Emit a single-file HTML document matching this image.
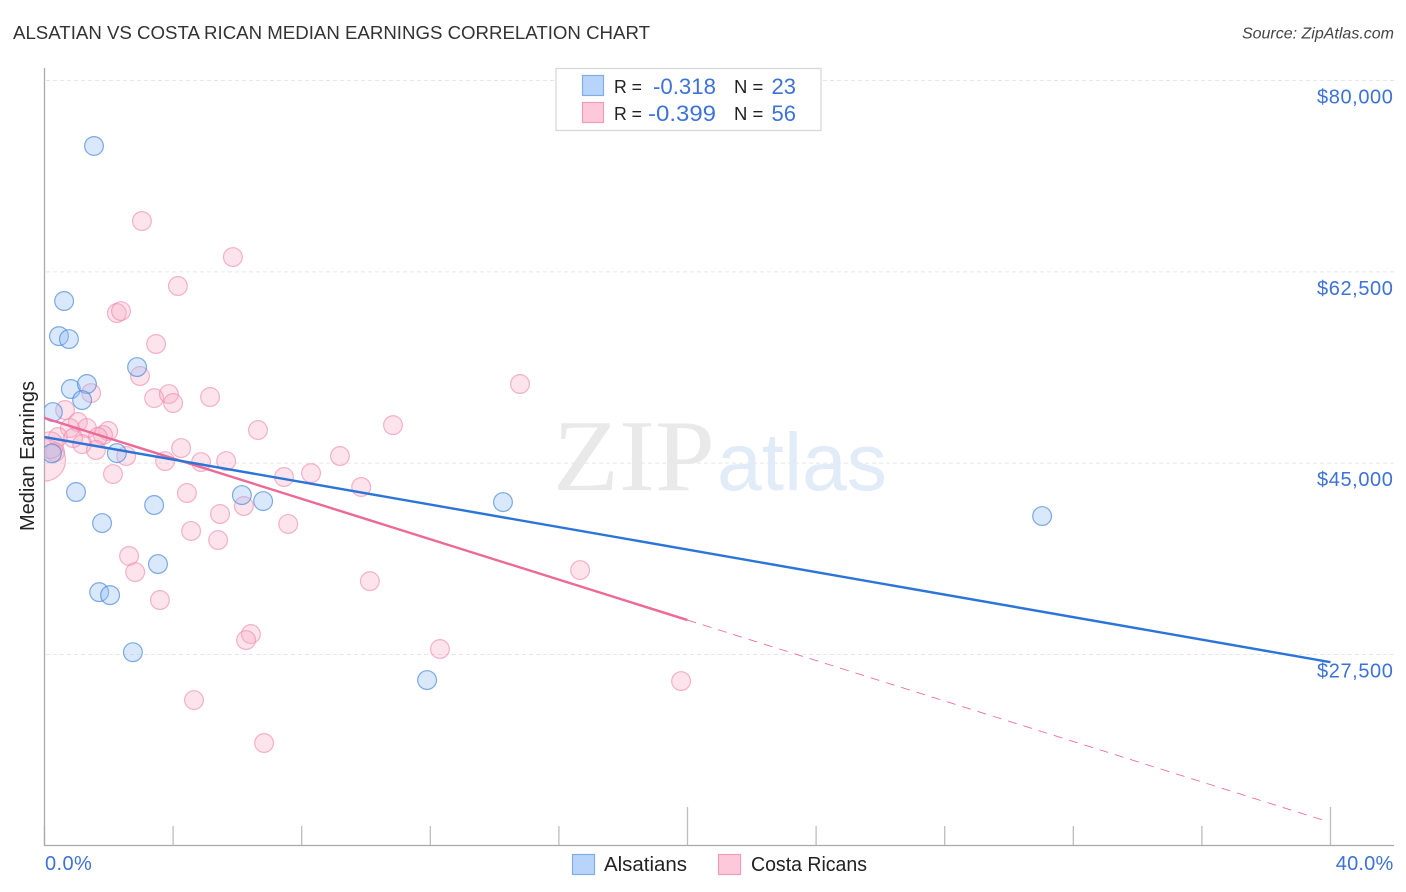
<!DOCTYPE html>
<html lang="en">
<head>
<meta charset="utf-8">
<title>Alsatian vs Costa Rican Median Earnings Correlation Chart</title>
<style>
html,body{margin:0;padding:0;background:#fff;width:1406px;height:892px;overflow:hidden}
svg{display:block;font-family:"Liberation Sans",sans-serif}
</style>
</head>
<body>
<svg id="chart" width="1406" height="892" viewBox="0 0 1406 892" xmlns="http://www.w3.org/2000/svg">
  <defs>
    <clipPath id="plot-clip"><rect x="44.5" y="60" width="1350" height="786"/></clipPath>
  </defs>
  <text x="13" y="39" font-size="18.5" fill="#333" textLength="637" lengthAdjust="spacingAndGlyphs">ALSATIAN VS COSTA RICAN MEDIAN EARNINGS CORRELATION CHART</text>
  <text x="1394" y="38.5" font-size="16" font-style="italic" fill="#444" text-anchor="end">Source: ZipAtlas.com</text>

  <g id="grid"></g>

  <g>
    <text x="553" y="490" font-family="'Liberation Serif',serif" font-size="102" fill="#e9e9e9" textLength="162" lengthAdjust="spacingAndGlyphs">ZIP</text>
    <text x="717" y="490" font-size="82" fill="#e2ecf9" textLength="170" lengthAdjust="spacingAndGlyphs">atlas</text>
  </g>

  <g id="ticks"></g>
  <line x1="44.5" y1="68" x2="44.5" y2="846" stroke="#aaa" stroke-width="1.3"/>
  <line x1="44" y1="845.5" x2="1394" y2="845.5" stroke="#aaa" stroke-width="1.3"/>

  <g id="points" clip-path="url(#plot-clip)"></g>
  <g id="trends"></g>
  <g id="ylabels"></g>

  <text transform="translate(34,456) rotate(-90)" font-size="20" fill="#222" text-anchor="middle">Median Earnings</text>
  <text x="45" y="870" font-size="20" letter-spacing="0.4" fill="#3d72d7">0.0%</text>
  <text x="1393.5" y="870" font-size="20" letter-spacing="0.2" fill="#3d72d7" text-anchor="end">40.0%</text>

  <g>
    <rect x="556" y="68.5" width="265" height="62" fill="#fff" stroke="#d8d8d8" stroke-width="1.3"/>
    <rect x="582.5" y="75.5" width="21" height="20" fill="#b9d4fa" stroke="#7fade6" stroke-width="1.2"/>
    <rect x="582.5" y="102.5" width="21" height="20" fill="#fdc8da" stroke="#ef9db9" stroke-width="1.2"/>
    <text x="614" y="93" font-size="18.5" fill="#222" textLength="28" lengthAdjust="spacingAndGlyphs">R =</text>
    <text x="653" y="94" font-size="22" fill="#3d72d7" textLength="63" lengthAdjust="spacingAndGlyphs">-0.318</text>
    <text x="734" y="93" font-size="18.5" fill="#222">N =</text>
    <text x="796" y="94" font-size="22" fill="#3d72d7" text-anchor="end">23</text>
    <text x="614" y="120" font-size="18.5" fill="#222" textLength="28" lengthAdjust="spacingAndGlyphs">R =</text>
    <text x="648" y="121" font-size="22" fill="#3d72d7" textLength="68" lengthAdjust="spacingAndGlyphs">-0.399</text>
    <text x="734" y="120" font-size="18.5" fill="#222">N =</text>
    <text x="796" y="121" font-size="22" fill="#3d72d7" text-anchor="end">56</text>
  </g>

  <g>
    <rect x="572.5" y="854.5" width="22" height="20" fill="#b9d4fa" stroke="#7fade6" stroke-width="1.2"/>
    <text x="604" y="871" font-size="20" fill="#222" textLength="83" lengthAdjust="spacingAndGlyphs">Alsatians</text>
    <rect x="718.5" y="854.5" width="22" height="20" fill="#fdc8da" stroke="#ef9db9" stroke-width="1.2"/>
    <text x="751" y="871" font-size="20" fill="#222" textLength="116" lengthAdjust="spacingAndGlyphs">Costa Ricans</text>
  </g>
</svg>
<script>
const yTicks = [80000, 62500, 45000, 27500];
const yTickLabels = ["$80,000", "$62,500", "$45,000", "$27,500"];
const xTicks = [0, 4, 8, 12, 16, 20, 24, 28, 32, 36, 40];

const alsatianX = [1.54,0.61,0.45,0.76,0.82,1.32,1.17,2.88,0.26,0.23,2.25,0.98,3.41,1.79,6.14,6.80,14.26,31.03,3.53,1.70,2.04,2.75,11.90];
const alsatianY = [74010,59830,56620,56350,51780,52240,50770,53790,49670,45900,45920,42360,41170,39520,42080,41530,41440,40160,35770,33200,32930,27710,25160];

const costaRicanX = [3.03,5.86,4.15,2.25,2.38,3.47,2.97,14.79,1.45,3.41,3.87,4.00,5.15,0.64,10.84,1.04,1.32,0.79,6.64,1.98,1.82,1.66,0.42,0.89,1.17,1.60,4.25,2.54,9.19,0.33,3.75,4.87,5.65,0.00,0.17,2.13,7.45,8.29,9.85,4.43,6.20,5.46,7.58,4.56,5.40,2.63,2.82,10.12,16.66,3.59,6.42,6.27,12.30,19.80,4.65,6.83];
const costaRicanY = [67150,63850,61200,58730,58910,55900,52970,52240,51410,50950,51320,50500,51050,49860,48480,48760,48210,48210,48030,47940,47570,47390,47390,47300,46750,46200,46380,45650,45650,46010,45190,45100,45190,45280,46650,44000,43730,44090,42820,42270,41080,40350,39440,38800,37970,36510,35040,34210,35220,32480,29370,28820,28000,25070,23330,19400];
const costaRicanWeight = [1,1,1,1,1,1,1,1,1,1,1,1,1,1,1,1,1,1,1,1,1,1,1,1,1,1,1,1,1,1,1,1,1,5,2,1,1,1,1,1,1,1,1,1,1,1,1,1,1,1,1,1,1,1,1,1];

const alsatianTrendX = [0, 40];
const alsatianTrendY = [47390, 26800];
const costaRicanTrendX = [0, 20];
const costaRicanTrendY = [49130, 30650];
const costaRicanDashX = [20, 39.87];
const costaRicanDashY = [30650, 12260];

const SVG_NS = "http://www.w3.org/2000/svg";
const xScale = v => 44.5 + v * (1330.5 - 44.5) / 40;
const yScale = v => 80.5 + (80000 - v) * (654.5 - 80.5) / 52500;
const rScale = w => 9.4 * Math.sqrt(w);

function make(tag, parentId, attrs) {
  const el = document.createElementNS(SVG_NS, tag);
  for (const k in attrs) el.setAttribute(k, attrs[k]);
  document.getElementById(parentId).appendChild(el);
  return el;
}

yTicks.forEach((t, i) => {
  const line = make("line", "grid", {x1: 46, x2: 1394, y1: yScale(t), y2: yScale(t), stroke: "#e6e6e6", "stroke-width": 1, "stroke-dasharray": "4 3"});
  
  
  const label = make("text", "ylabels", {x: 1393.5, y: yScale(t) + 23, "font-size": 20, "letter-spacing": 0.6, fill: "#3d72d7", "text-anchor": "end"});
  label.textContent = yTickLabels[i];
  
  
});

xTicks.forEach(t => {
  const major = t === 20 || t === 40;
  const tick = make("line", "ticks", {x1: xScale(t), x2: xScale(t), y1: major ? 807 : 826, y2: 846, stroke: "#bdbdbd", "stroke-width": 1.3});
  
  
});

costaRicanX.forEach((v, i) => {
  const c = make("circle", "points", {cx: xScale(v), cy: yScale(costaRicanY[i]), r: rScale(costaRicanWeight[i]), fill: "rgba(248,170,196,0.32)", stroke: "rgba(236,130,168,0.58)", "stroke-width": 1.2});
  
  
});

alsatianX.forEach((v, i) => {
  const c = make("circle", "points", {cx: xScale(v), cy: yScale(alsatianY[i]), r: rScale(1), fill: "rgba(150,192,244,0.36)", stroke: "rgba(66,130,215,0.66)", "stroke-width": 1.2});
  
  
});

const dash = make("line", "trends", {x1: xScale(costaRicanDashX[0]), y1: yScale(costaRicanDashY[0]), x2: xScale(costaRicanDashX[1]), y2: yScale(costaRicanDashY[1]), stroke: "#ec6f9b", "stroke-width": 0.9, "stroke-dasharray": "9 7"});



const pinkTrend = make("line", "trends", {x1: xScale(costaRicanTrendX[0]), y1: yScale(costaRicanTrendY[0]), x2: xScale(costaRicanTrendX[1]), y2: yScale(costaRicanTrendY[1]), stroke: "#ec6a97", "stroke-width": 2.4});



const blueTrend = make("line", "trends", {x1: xScale(alsatianTrendX[0]), y1: yScale(alsatianTrendY[0]), x2: xScale(alsatianTrendX[1]), y2: yScale(alsatianTrendY[1]), stroke: "#2b74d8", "stroke-width": 2.4});


</script>
</body>
</html>
